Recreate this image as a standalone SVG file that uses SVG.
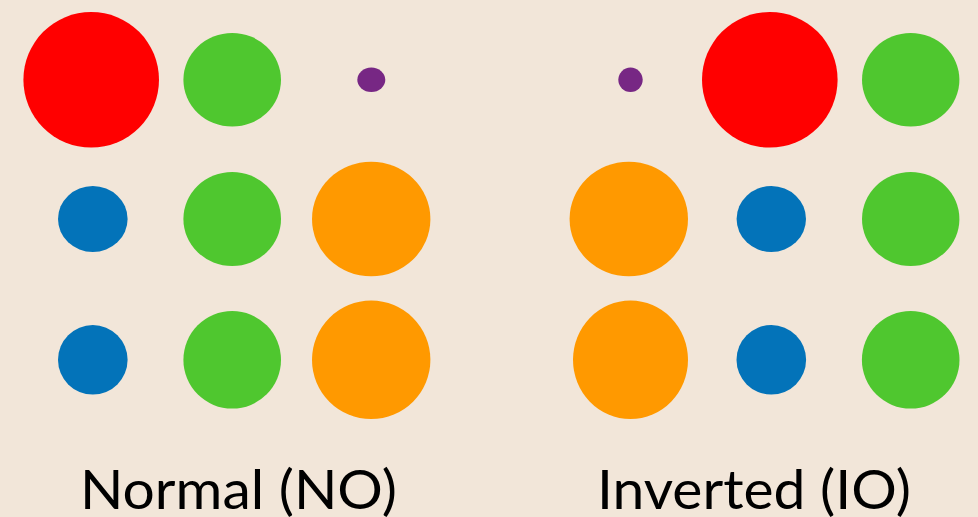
<svg xmlns="http://www.w3.org/2000/svg" width="978" height="517" viewBox="0 0 978 517">
<style>
.red{fill:#FF0000}.green{fill:#4FC72F}.purple{fill:#772784}.blue{fill:#0373B9}.orange{fill:#FF9900}
.lbl{font-family:Lato,"Open Sans","Liberation Sans",sans-serif;font-size:55px;fill:#000}
</style>
<rect width="978" height="517" fill="#F2E6D9"/>
<g id="normal">
<ellipse id="n-red" class="red" cx="91.2" cy="79.8" rx="67.8" ry="67.8"/>
<ellipse id="n-green1" class="green" cx="232.2" cy="79.8" rx="48.8" ry="46.8"/>
<ellipse id="n-purple" class="purple" cx="371.3" cy="79.8" rx="14" ry="12.2"/>
<ellipse id="n-blue2" class="blue" cx="92.8" cy="219" rx="34.8" ry="33"/>
<ellipse id="n-green2" class="green" cx="232.2" cy="219" rx="48.8" ry="47"/>
<ellipse id="n-orange2" class="orange" cx="371.2" cy="219" rx="59.2" ry="57.3"/>
<ellipse id="n-blue3" class="blue" cx="92.8" cy="359.8" rx="34.8" ry="34.8"/>
<ellipse id="n-green3" class="green" cx="232.2" cy="359.8" rx="48.8" ry="48.8"/>
<ellipse id="n-orange3" class="orange" cx="371.2" cy="359.8" rx="59.2" ry="59.2"/>
</g>
<g id="inverted">
<ellipse id="i-purple" class="purple" cx="630.5" cy="79.8" rx="12.2" ry="12.2"/>
<ellipse id="i-red" class="red" cx="769.8" cy="79.8" rx="67.8" ry="67.8"/>
<ellipse id="i-green1" class="green" cx="910.7" cy="79.8" rx="48.7" ry="46.8"/>
<ellipse id="i-orange2" class="orange" cx="628.8" cy="219" rx="59.2" ry="57.3"/>
<ellipse id="i-blue2" class="blue" cx="771.3" cy="219" rx="34.7" ry="33"/>
<ellipse id="i-green2" class="green" cx="910.7" cy="219" rx="48.7" ry="47"/>
<ellipse id="i-orange3" class="orange" cx="630.5" cy="359.8" rx="57.5" ry="59.2"/>
<ellipse id="i-blue3" class="blue" cx="771.3" cy="359.8" rx="34.8" ry="34.8"/>
<ellipse id="i-green3" class="green" cx="910.7" cy="359.8" rx="48.8" ry="48.8"/>
</g>
<g id="connectors"/>
<g id="labels">
<text class="lbl" x="80" y="509" textLength="317" lengthAdjust="spacingAndGlyphs">Normal (NO)</text>
<text class="lbl" x="597" y="509" textLength="314" lengthAdjust="spacingAndGlyphs">Inverted (IO)</text>
</g>
</svg>
